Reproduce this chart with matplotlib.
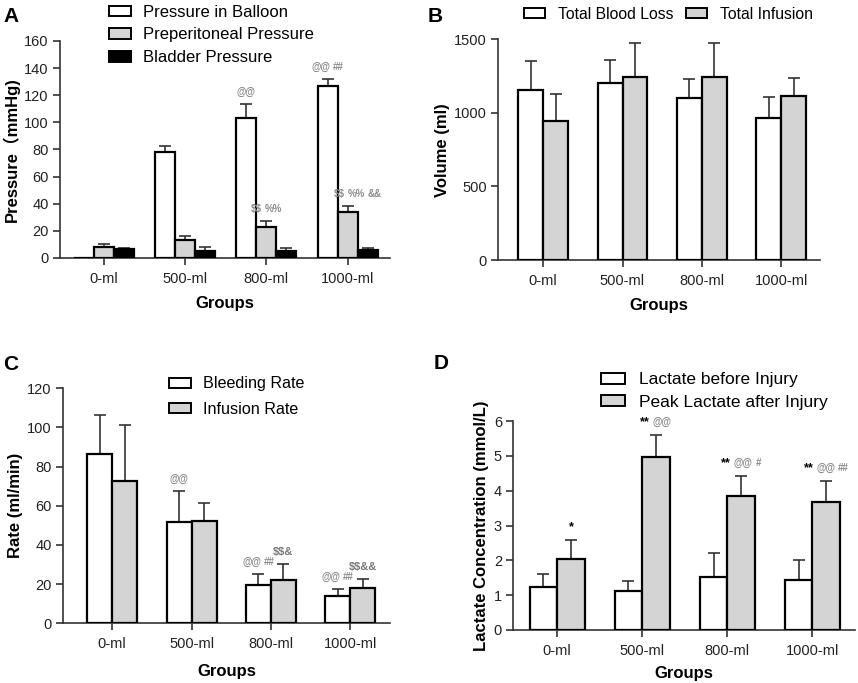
import numpy as np
import matplotlib
matplotlib.use("Agg")
import matplotlib.pyplot as plt
from matplotlib.offsetbox import TextArea, HPacker, AnnotationBbox
from matplotlib.patches import Patch

plt.rcParams['font.family'] = ['Liberation Sans', 'Noto Sans CJK SC', 'DejaVu Sans']

groups = ["0-ml", "500-ml", "800-ml", "1000-ml"]

# Panel A
balloon = [0, 78, 103, 127]
balloon_err = [0, 4.5, 10.5, 5]
preperitoneal = [8.2, 13, 23.2, 34]
preperitoneal_err = [2.1, 3.5, 3.9, 4.1]
bladder = [6.4, 5.4, 5.4, 5.7]
bladder_err = [1.3, 2.5, 2.0, 1.4]

# Panel B
blood_loss = [1155, 1201, 1101, 968]
blood_loss_err = [195, 156, 132, 138]
infusion_total = [943, 1242, 1242, 1117]
infusion_total_err = [183, 231, 231, 120]

# Panel C
bleeding_rate = [86.3, 51.6, 19.4, 14.1]
bleeding_rate_err = [19.9, 15.8, 5.6, 3.4]
infusion_rate = [72.7, 52.3, 22.1, 17.9]
infusion_rate_err = [28.7, 9.3, 8.0, 4.9]

# Panel D
lactate_before = [1.23, 1.12, 1.51, 1.44]
lactate_before_err = [0.39, 0.30, 0.71, 0.57]
lactate_peak = [2.03, 4.98, 3.85, 3.67]
lactate_peak_err = [0.55, 0.61, 0.58, 0.61]

GRAY = '#d4d4d4'
ANN = '#8a8a8a'
DARK = '#333333'

fig = plt.figure(figsize=(8.58, 6.83), dpi=100)


def style_axes(ax):
    for s in ['top', 'right']:
        ax.spines[s].set_visible(False)
    for s in ['left', 'bottom']:
        ax.spines[s].set_color(DARK)
        ax.spines[s].set_linewidth(1.2)
    ax.tick_params(axis='both', direction='out', length=5, width=1.2,
                   color=DARK, labelsize=10.5, labelcolor='#222222', pad=3)
    ax.tick_params(axis='x', pad=5)
    ax.set_xticks(range(len(groups)))
    ax.set_xticklabels(groups)


def draw_bars(ax, series, errs, colors, width, offsets):
    x = np.arange(len(groups))
    for vals, err, col, off in zip(series, errs, colors, offsets):
        xs = x + off * width
        ax.bar(xs, vals, width, color=col, edgecolor='black', linewidth=1.6, zorder=3)
        e = np.array(err)
        m = e > 0
        ax.errorbar(xs[m], np.array(vals)[m], yerr=[np.zeros(m.sum()), e[m]],
                    fmt='none', ecolor=DARK, elinewidth=1.2, capsize=4,
                    capthick=1.2, zorder=2)


def annotate(ax, x, y, pieces, size=7):
    areas = []
    for t, c in pieces:
        fs = size + 2 if '*' in t else size
        areas.append(TextArea(t, textprops=dict(color=c, fontsize=fs, fontweight='bold',
                                                parse_math=False)))
    box = HPacker(children=areas, pad=0, sep=2, align='center')
    ab = AnnotationBbox(box, (x, y), xybox=(0, 5), xycoords='data',
                        boxcoords='offset points', frameon=False,
                        box_alignment=(0.5, 0.0), pad=0)
    ax.add_artist(ab)


def legend(ax, labels, colors, xy, fs, **kw):
    handles = [Patch(facecolor=c, edgecolor='black', linewidth=1.4) for c in colors]
    return ax.legend(handles, labels, frameon=False, fontsize=fs,
                     handlelength=1.35, handleheight=0.6, loc='upper left',
                     bbox_to_anchor=xy, bbox_transform=fig.transFigure,
                     borderpad=0, borderaxespad=0, **kw)


def ylab(ax, text, pad=3):
    ax.set_ylabel(text, fontsize=12, fontweight='bold', labelpad=pad)


def xlab(ax, pad):
    ax.set_xlabel('Groups', fontsize=12, fontweight='bold', labelpad=pad)


# ---------- Panel A ----------
axA = fig.add_axes([0.0699, 0.6223, 0.3846, 0.3177])
style_axes(axA)
wA = 0.246
draw_bars(axA, [balloon, preperitoneal, bladder],
          [balloon_err, preperitoneal_err, bladder_err],
          ['white', GRAY, 'black'], wA, [-1, 0, 1])
axA.set_ylim(0, 160)
axA.set_yticks(range(0, 161, 20))
axA.set_xlim(-0.54, 3.52)
ylab(axA, 'Pressure（mmHg)')
xlab(axA, 7)
legend(axA, ['Pressure in Balloon', 'Preperitoneal Pressure', 'Bladder Pressure'],
       ['white', GRAY, 'black'], (0.127, 0.993), 12,
       labelspacing=0.46, handletextpad=0.7)
annotate(axA, 2 - wA, balloon[2] + balloon_err[2], [('@@', ANN)])
annotate(axA, 3 - wA, balloon[3] + balloon_err[3], [('@@', ANN), ('##', ANN)])
annotate(axA, 2, preperitoneal[2] + preperitoneal_err[2], [('$$', ANN), ('%%', ANN)])
annotate(axA, 3 + 0.12, preperitoneal[3] + preperitoneal_err[3],
         [('$$', ANN), ('%%', ANN), ('&&', ANN)])
fig.text(0.004, 0.968, 'A', fontsize=15, fontweight='bold')

# ---------- Panel B ----------
axB = fig.add_axes([0.5804, 0.6193, 0.3753, 0.3231])
style_axes(axB)
wB = 0.315
draw_bars(axB, [blood_loss, infusion_total], [blood_loss_err, infusion_total_err],
          ['white', GRAY], wB, [-0.5, 0.5])
axB.set_ylim(0, 1500)
axB.set_yticks([0, 500, 1000, 1500])
axB.set_xlim(-0.57, 3.49)
ylab(axB, 'Volume (ml)')
xlab(axB, 7)
legend(axB, ['Total Blood Loss', 'Total Infusion'], ['white', GRAY],
       (0.611, 0.990), 11.3, ncol=2, columnspacing=0.8, handletextpad=0.8)
fig.text(0.498, 0.968, 'B', fontsize=15, fontweight='bold')

# ---------- Panel C ----------
axC = fig.add_axes([0.0734, 0.0874, 0.3811, 0.3441])
style_axes(axC)
wC = 0.315
draw_bars(axC, [bleeding_rate, infusion_rate], [bleeding_rate_err, infusion_rate_err],
          ['white', GRAY], wC, [-0.5, 0.5])
axC.set_ylim(0, 120)
axC.set_yticks(range(0, 121, 20))
axC.set_xlim(-0.62, 3.5)
ylab(axC, 'Rate (ml/min)')
xlab(axC, 9)
legend(axC, ['Bleeding Rate', 'Infusion Rate'], ['white', GRAY],
       (0.197, 0.449), 11.6, labelspacing=0.65, handletextpad=0.75)
annotate(axC, 1 - wC / 2, bleeding_rate[1] + bleeding_rate_err[1], [('@@', ANN)])
annotate(axC, 2 - wC / 2, bleeding_rate[2] + bleeding_rate_err[2], [('@@', ANN), ('##', ANN)])
annotate(axC, 2 + wC / 2, infusion_rate[2] + infusion_rate_err[2], [('$$&', '#777777')], size=8)
annotate(axC, 3 - wC / 2, bleeding_rate[3] + bleeding_rate_err[3], [('@@', ANN), ('##', ANN)])
annotate(axC, 3 + wC / 2, infusion_rate[3] + infusion_rate_err[3], [('$$&&', '#777777')], size=8)
fig.text(0.004, 0.458, 'C', fontsize=15, fontweight='bold')

# ---------- Panel D ----------
axD = fig.add_axes([0.5979, 0.0776, 0.3986, 0.306])
style_axes(axD)
wD = 0.326
draw_bars(axD, [lactate_before, lactate_peak], [lactate_before_err, lactate_peak_err],
          ['white', GRAY], wD, [-0.5, 0.5])
axD.set_ylim(0, 6)
axD.set_yticks(range(0, 7))
axD.set_xlim(-0.52, 3.5)
ylab(axD, 'Lactate Concentration (mmol/L)')
xlab(axD, 6)
legend(axD, ['Lactate before Injury', 'Peak Lactate after Injury'], ['white', GRAY],
       (0.701, 0.455), 12.5, labelspacing=0.45, handletextpad=0.8)
annotate(axD, 0 + wD / 2, lactate_peak[0] + lactate_peak_err[0], [('*', 'black')])
annotate(axD, 1 + wD / 2, lactate_peak[1] + lactate_peak_err[1], [('**', 'black'), ('@@', ANN)])
annotate(axD, 2 + wD / 2, lactate_peak[2] + lactate_peak_err[2],
         [('**', 'black'), ('@@', ANN), ('#', ANN)])
annotate(axD, 3 + wD / 2, lactate_peak[3] + lactate_peak_err[3],
         [('**', 'black'), ('@@', ANN), ('##', ANN)])
fig.text(0.505, 0.46, 'D', fontsize=15, fontweight='bold')

fig.savefig('out.png', dpi=100)
